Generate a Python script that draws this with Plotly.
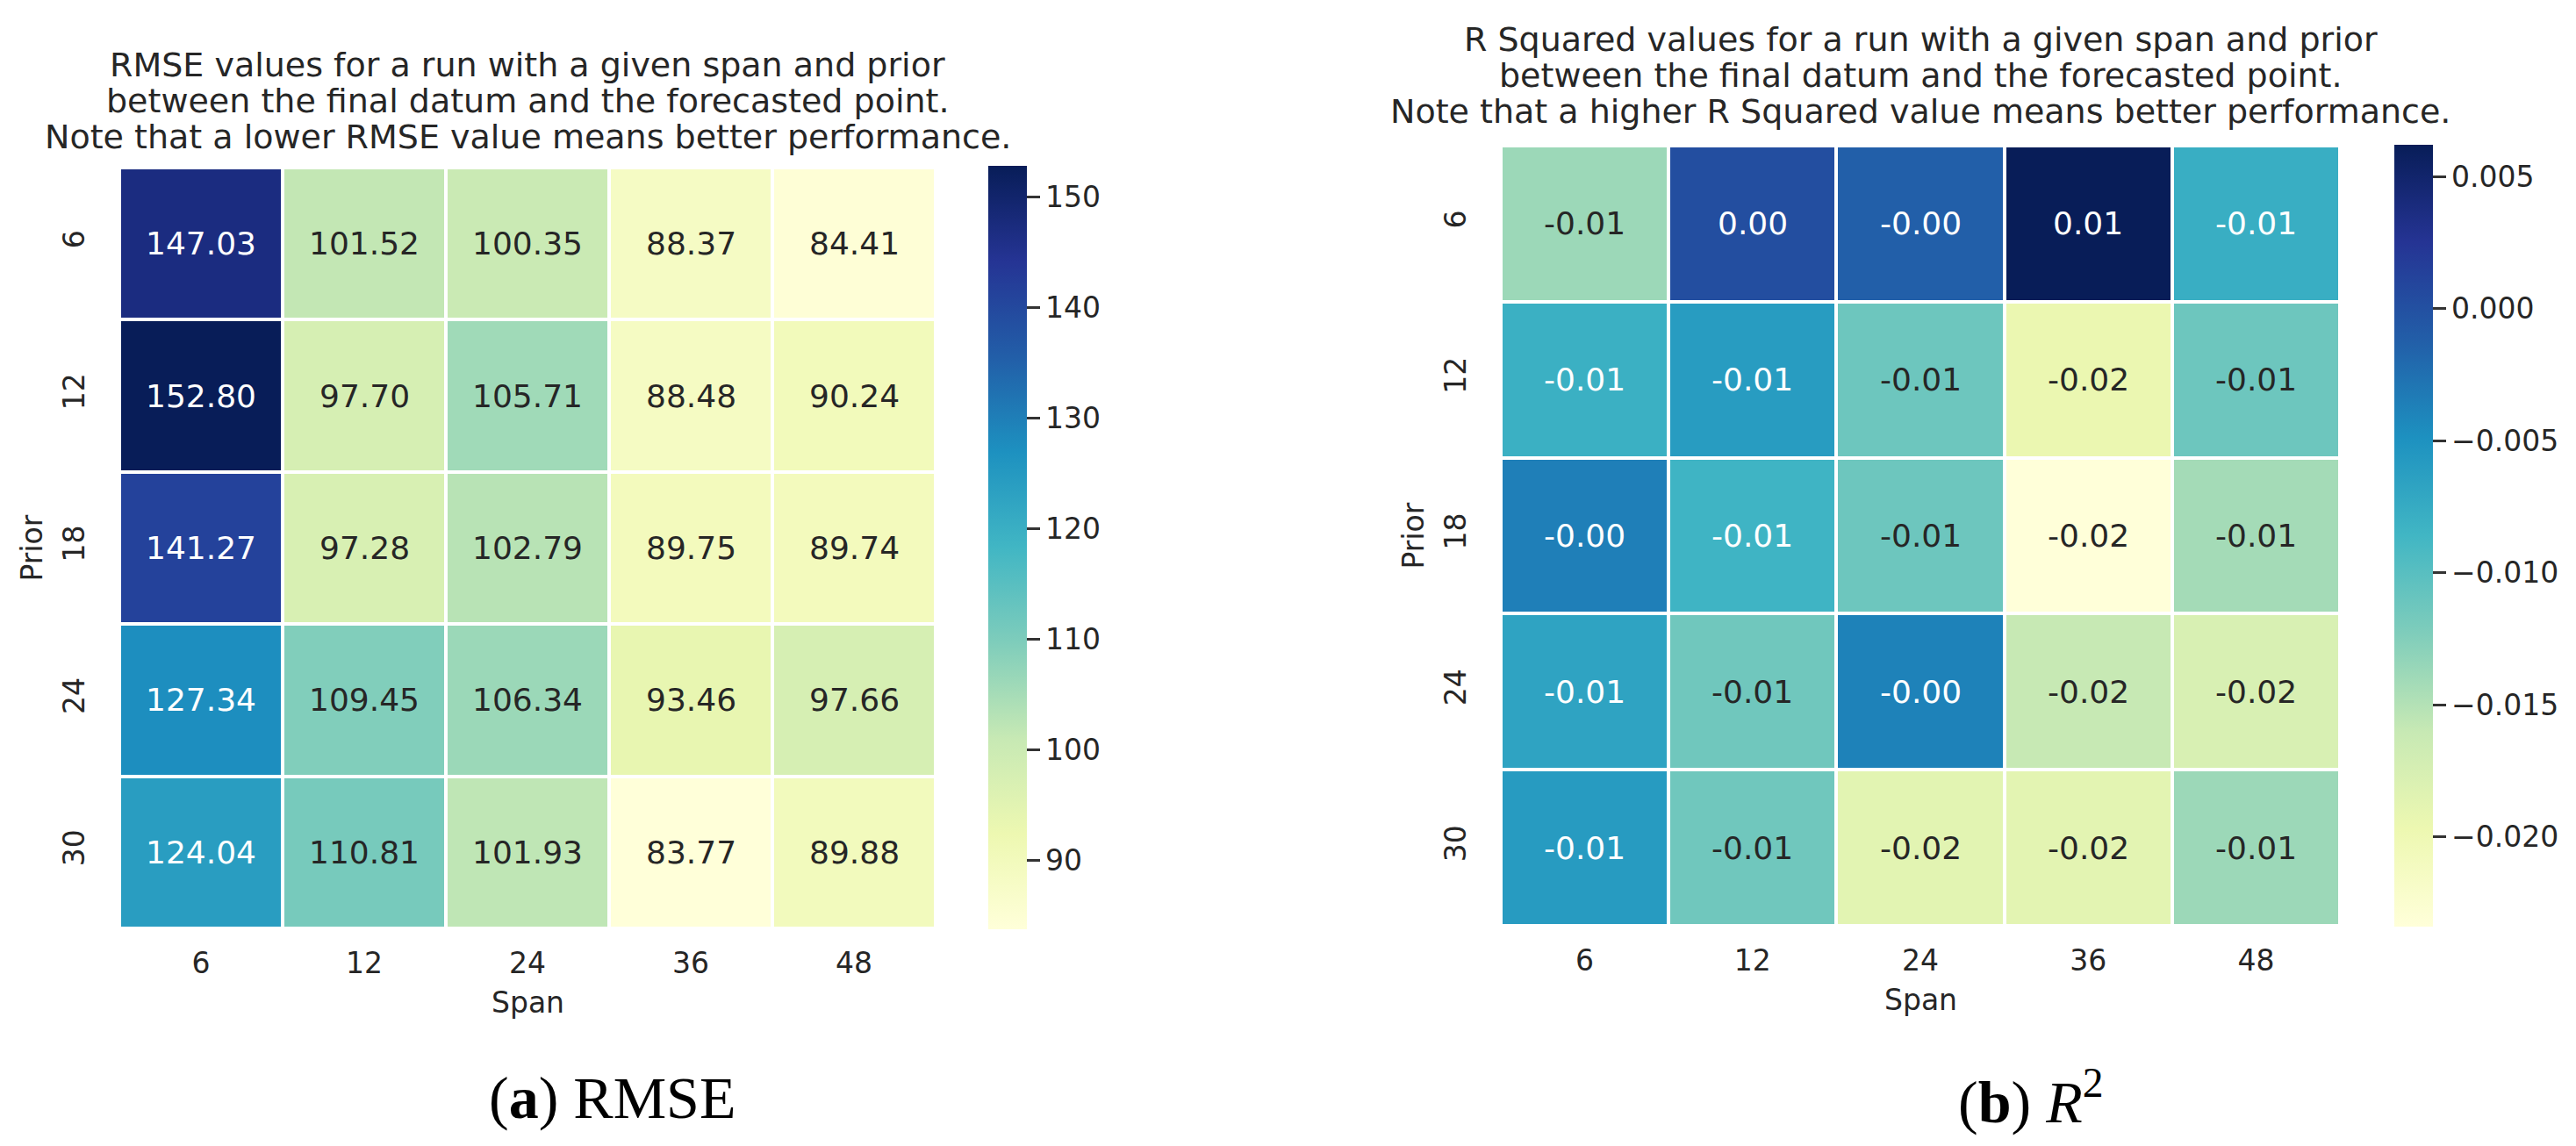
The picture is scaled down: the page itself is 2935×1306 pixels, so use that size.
import plotly.graph_objects as go

W, H = 2935, 1306

spans = ["6", "12", "24", "36", "48"]
priors = ["6", "12", "18", "24", "30"]

rmse = [
    [147.03, 101.52, 100.35, 88.37, 84.41],
    [152.80, 97.70, 105.71, 88.48, 90.24],
    [141.27, 97.28, 102.79, 89.75, 89.74],
    [127.34, 109.45, 106.34, 93.46, 97.66],
    [124.04, 110.81, 101.93, 83.77, 89.88],
]

r2 = [
    [-0.0138, 0.0002, -0.0013, 0.0062, -0.0078],
    [-0.0080, -0.0060, -0.0112, -0.0195, -0.0112],
    [-0.0036, -0.0084, -0.0112, -0.0234, -0.0142],
    [-0.0067, -0.0114, -0.0038, -0.0160, -0.0177],
    [-0.0059, -0.0114, -0.0186, -0.0187, -0.0138],
]

title_rmse = ["RMSE values for a run with a given span and prior",
              "between the final datum and the forecasted point.",
              "Note that a lower RMSE value means better performance."]
title_r2 = ["R Squared values for a run with a given span and prior",
            "between the final datum and the forecasted point.",
            "Note that a higher R Squared value means better performance."]

ylgnbu = ["#ffffd9", "#edf8b1", "#c7e9b4", "#7fcdbb", "#41b6c4",
          "#1d91c0", "#225ea8", "#253494", "#081d58"]
cscale = [[i / 8, c] for i, c in enumerate(ylgnbu)]

FONT = "DejaVu Sans"
DARK = "#262626"

xi = list(range(len(spans)))
yi = list(range(len(priors)))


def hex2rgb(h):
    return [int(h[i:i + 2], 16) / 255 for i in (1, 3, 5)]


def cmap(t):
    t = min(max(t, 0), 1) * 8
    i = min(int(t), 7)
    f = t - i
    a, b = hex2rgb(ylgnbu[i]), hex2rgb(ylgnbu[i + 1])
    return [a[k] + (b[k] - a[k]) * f for k in range(3)]


def lum(rgb):
    out = []
    for c in rgb:
        out.append(c / 12.92 if c <= 0.03928 else ((c + 0.055) / 1.055) ** 2.4)
    return 0.2126 * out[0] + 0.7152 * out[1] + 0.0722 * out[2]


def px_x(p):
    return p / W


def px_y(p):
    return 1 - p / H


L = dict(x0=128, x1=1058, y0=183, y1=1050, cb_x=1118, cb_y0=181, cb_y1=1051)
R = dict(x0=1702, x1=2658, y0=158, y1=1047, cb_x=2720, cb_y0=157, cb_y1=1048)

fig = go.Figure()
annotations = []


def add_panel(z, box, xa, ya, dtick, tickfmt, titles, title_y, caption, cap_x):
    flat = [v for row in z for v in row]
    zmin, zmax = min(flat), max(flat)
    fig.add_trace(go.Heatmap(
        z=z, x=xi, y=yi, xaxis=xa, yaxis=ya,
        colorscale=cscale, zmin=zmin, zmax=zmax, xgap=4, ygap=4,
        hoverinfo="skip",
        colorbar=dict(
            x=px_x(box["cb_x"]), xanchor="left", xref="paper", xpad=0, ypad=0,
            y=px_y((box["cb_y0"] + box["cb_y1"]) / 2), yanchor="middle",
            len=(box["cb_y1"] - box["cb_y0"]) / H, lenmode="fraction",
            thickness=44, thicknessmode="pixels", outlinewidth=0,
            ticks="outside", ticklen=15, tickwidth=3, tickcolor="#333333",
            tick0=0, dtick=dtick, tickformat=tickfmt,
            tickfont=dict(family=FONT, size=33, color=DARK),
        ),
    ))
    for i, row in enumerate(z):
        for j, v in enumerate(row):
            t = (v - zmin) / (zmax - zmin)
            col = DARK if lum(cmap(t)) > 0.408 else "#ffffff"
            annotations.append(dict(
                x=xi[j], y=yi[i], xref=xa, yref=ya,
                text=f"{v:.2f}", showarrow=False,
                font=dict(family=FONT, size=36, color=col)))
    cx = px_x((box["x0"] + box["x1"]) / 2)
    for k, line in enumerate(titles):
        annotations.append(dict(
            x=cx, y=px_y(title_y[k]), xref="paper", yref="paper",
            text=line, showarrow=False, xanchor="center", yanchor="middle",
            font=dict(family=FONT, size=38, color=DARK)))
    annotations.append(dict(
        x=cx, y=px_y(box["y1"] + 84), xref="paper", yref="paper",
        text="Span", showarrow=False, xanchor="center", yanchor="middle",
        font=dict(family=FONT, size=33, color=DARK)))
    annotations.append(dict(
        x=px_x(box["x0"] - 100), y=px_y((box["y0"] + box["y1"]) / 2),
        xref="paper", yref="paper", text="Prior", textangle=-90,
        showarrow=False, xanchor="center", yanchor="middle",
        font=dict(family=FONT, size=33, color=DARK)))
    annotations.append(dict(
        x=px_x(cap_x), y=px_y(1243), xref="paper", yref="paper",
        text=caption, showarrow=False, xanchor="center", yanchor="middle",
        font=dict(family="Liberation Serif", size=68, color="#000000")))


add_panel(rmse, L, "x", "y", 10, "d", title_rmse, [66, 107, 148],
          "(<b>a</b>) RMSE", 689)
add_panel(r2, R, "x2", "y2", 0.005, ".3f", title_r2, [37, 78, 119],
          "(<b>b</b>) <i>R</i><sup>2</sup>", 2305)

axis_common = dict(showgrid=False, zeroline=False, showline=False,
                   ticks="outside", tickcolor="rgba(0,0,0,0)",
                   tickfont=dict(family=FONT, size=33, color=DARK))
xax = dict(tickmode="array", tickvals=xi, ticktext=spans, range=[-0.5, 4.5],
           ticklen=10, **axis_common)
yax = dict(tickmode="array", tickvals=yi, ticktext=priors, range=[4.5, -0.5],
           tickangle=-90, ticklen=26, **axis_common)

fig.update_layout(
    width=W, height=H,
    margin=dict(l=0, r=0, t=0, b=0),
    paper_bgcolor="white", plot_bgcolor="white",
    showlegend=False,
    xaxis=dict(domain=[px_x(L["x0"]), px_x(L["x1"])], anchor="y", **xax),
    yaxis=dict(domain=[px_y(L["y1"]), px_y(L["y0"])], anchor="x", **yax),
    xaxis2=dict(domain=[px_x(R["x0"]), px_x(R["x1"])], anchor="y2", **xax),
    yaxis2=dict(domain=[px_y(R["y1"]), px_y(R["y0"])], anchor="x2", **yax),
    annotations=annotations,
)

fig.write_html("out.html")
